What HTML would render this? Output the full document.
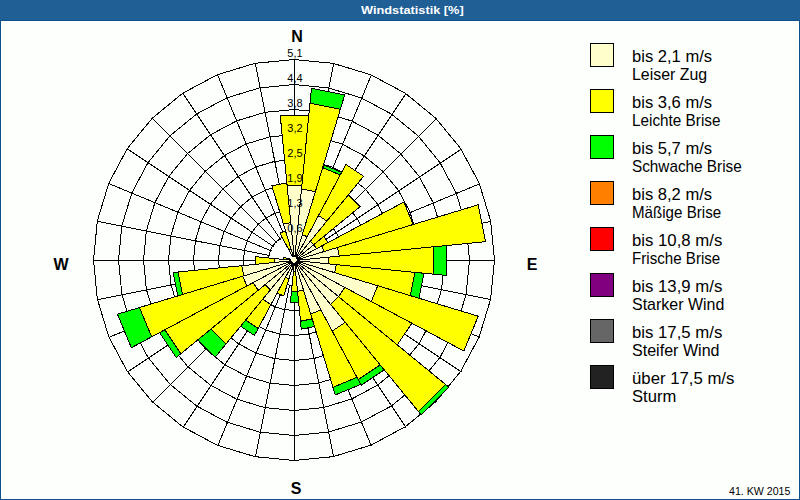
<!DOCTYPE html>
<html><head><meta charset="utf-8"><style>
html,body{margin:0;padding:0;}
body{width:800px;height:500px;position:relative;overflow:hidden;background:#fdfffd;font-family:"Liberation Sans",sans-serif;}
#hdr{position:absolute;left:0;top:0;width:800px;height:20px;background:#1f5f96;border-bottom:1px solid #0d4f8c;}
#title{position:absolute;left:361px;top:3px;color:#fff;font-weight:bold;font-size:11px;line-height:14px;transform:scaleX(1.16);transform-origin:0 0;white-space:nowrap;}
#bl{position:absolute;left:0;top:20px;width:1px;height:480px;background:#0d4f8c;}
#br{position:absolute;left:799px;top:20px;width:1px;height:480px;background:#0d4f8c;}
#bb{position:absolute;left:0;top:499px;width:800px;height:1px;background:#0d4f8c;}
.box{position:absolute;left:590px;width:22px;height:22px;border:1px solid #000;}
.lt{position:absolute;left:632px;transform-origin:0 0;font-size:17px;line-height:18px;color:#000;white-space:nowrap;}
#kw{position:absolute;left:729px;top:485px;font-size:11px;line-height:13px;transform:scaleX(0.965);transform-origin:0 0;color:#000;white-space:nowrap;}
svg{position:absolute;left:0;top:0;}
.dir{font-weight:bold;font-size:16px;}
.sc{font-size:11px;}
</style></head><body>
<div id="hdr"></div><div id="title">Windstatistik [%]</div>
<div id="bl"></div><div id="br"></div><div id="bb"></div>
<svg width="800" height="500" viewBox="0 0 800 500" font-family="Liberation Sans, sans-serif">
<g shape-rendering="crispEdges">
<polygon points="294,234.5 298.97,234.99 303.76,236.44 308.17,238.8 312.03,241.97 315.2,245.83 317.56,250.24 319.01,255.03 319.5,260 319.01,264.97 317.56,269.76 315.2,274.17 312.03,278.03 308.17,281.2 303.76,283.56 298.97,285.01 294,285.5 289.03,285.01 284.24,283.56 279.83,281.2 275.97,278.03 272.8,274.17 270.44,269.76 268.99,264.97 268.5,260 268.99,255.03 270.44,250.24 272.8,245.83 275.97,241.97 279.83,238.8 284.24,236.44 289.03,234.99" fill="none" stroke="#000" stroke-width="1"/>
<polygon points="294,209.5 303.85,210.47 313.33,213.34 322.06,218.01 329.71,224.29 335.99,231.94 340.66,240.67 343.53,250.15 344.5,260 343.53,269.85 340.66,279.33 335.99,288.06 329.71,295.71 322.06,301.99 313.33,306.66 303.85,309.53 294,310.5 284.15,309.53 274.67,306.66 265.94,301.99 258.29,295.71 252.01,288.06 247.34,279.33 244.47,269.85 243.5,260 244.47,250.15 247.34,240.67 252.01,231.94 258.29,224.29 265.94,218.01 274.67,213.34 284.15,210.47" fill="none" stroke="#000" stroke-width="1"/>
<polygon points="294,184.5 308.73,185.95 322.89,190.25 335.95,197.22 347.39,206.61 356.78,218.05 363.75,231.11 368.05,245.27 369.5,260 368.05,274.73 363.75,288.89 356.78,301.95 347.39,313.39 335.95,322.78 322.89,329.75 308.73,334.05 294,335.5 279.27,334.05 265.11,329.75 252.05,322.78 240.61,313.39 231.22,301.95 224.25,288.89 219.95,274.73 218.5,260 219.95,245.27 224.25,231.11 231.22,218.05 240.61,206.61 252.05,197.22 265.11,190.25 279.27,185.95" fill="none" stroke="#000" stroke-width="1"/>
<polygon points="294,159.5 313.61,161.43 332.46,167.15 349.83,176.44 365.06,188.94 377.56,204.17 386.85,221.54 392.57,240.39 394.5,260 392.57,279.61 386.85,298.46 377.56,315.83 365.06,331.06 349.83,343.56 332.46,352.85 313.61,358.57 294,360.5 274.39,358.57 255.54,352.85 238.17,343.56 222.94,331.06 210.44,315.83 201.15,298.46 195.43,279.61 193.5,260 195.43,240.39 201.15,221.54 210.44,204.17 222.94,188.94 238.17,176.44 255.54,167.15 274.39,161.43" fill="none" stroke="#000" stroke-width="1"/>
<polygon points="294,134.5 318.48,136.91 342.03,144.05 363.72,155.65 382.74,171.26 398.35,190.28 409.95,211.97 417.09,235.52 419.5,260 417.09,284.48 409.95,308.03 398.35,329.72 382.74,348.74 363.72,364.35 342.03,375.95 318.48,383.09 294,385.5 269.52,383.09 245.97,375.95 224.28,364.35 205.26,348.74 189.65,329.72 178.05,308.03 170.91,284.48 168.5,260 170.91,235.52 178.05,211.97 189.65,190.28 205.26,171.26 224.28,155.65 245.97,144.05 269.52,136.91" fill="none" stroke="#000" stroke-width="1"/>
<polygon points="294,109.5 323.36,112.39 351.59,120.96 377.61,134.86 400.42,153.58 419.14,176.39 433.04,202.41 441.61,230.64 444.5,260 441.61,289.36 433.04,317.59 419.14,343.61 400.42,366.42 377.61,385.14 351.59,399.04 323.36,407.61 294,410.5 264.64,407.61 236.41,399.04 210.39,385.14 187.58,366.42 168.86,343.61 154.96,317.59 146.39,289.36 143.5,260 146.39,230.64 154.96,202.41 168.86,176.39 187.58,153.58 210.39,134.86 236.41,120.96 264.64,112.39" fill="none" stroke="#000" stroke-width="1"/>
<polygon points="294,84.5 328.24,87.87 361.16,97.86 391.5,114.08 418.1,135.9 439.92,162.5 456.14,192.84 466.13,225.76 469.5,260 466.13,294.24 456.14,327.16 439.92,357.5 418.1,384.1 391.5,405.92 361.16,422.14 328.24,432.13 294,435.5 259.76,432.13 226.84,422.14 196.5,405.92 169.9,384.1 148.08,357.5 131.86,327.16 121.87,294.24 118.5,260 121.87,225.76 131.86,192.84 148.08,162.5 169.9,135.9 196.5,114.08 226.84,97.86 259.76,87.87" fill="none" stroke="#000" stroke-width="1"/>
<polygon points="294,59.5 333.12,63.35 370.73,74.76 405.39,93.29 435.77,118.23 460.71,148.61 479.24,183.27 490.65,220.88 494.5,260 490.65,299.12 479.24,336.73 460.71,371.39 435.77,401.77 405.39,426.71 370.73,445.24 333.12,456.65 294,460.5 254.88,456.65 217.27,445.24 182.61,426.71 152.23,401.77 127.29,371.39 108.76,336.73 97.35,299.12 93.5,260 97.35,220.88 108.76,183.27 127.29,148.61 152.23,118.23 182.61,93.29 217.27,74.76 254.88,63.35" fill="none" stroke="#000" stroke-width="1"/>
<line x1="294.5" y1="235.5" x2="294.5" y2="59.8" stroke="#000" stroke-width="1"/>
<line x1="299.38" y1="235.98" x2="333.65" y2="63.66" stroke="#000" stroke-width="1"/>
<line x1="304.07" y1="237.4" x2="371.3" y2="75.08" stroke="#000" stroke-width="1"/>
<line x1="308.39" y1="239.71" x2="406" y2="93.62" stroke="#000" stroke-width="1"/>
<line x1="312.18" y1="242.82" x2="436.42" y2="118.58" stroke="#000" stroke-width="1"/>
<line x1="315.29" y1="246.61" x2="461.38" y2="149" stroke="#000" stroke-width="1"/>
<line x1="317.6" y1="250.93" x2="479.92" y2="183.7" stroke="#000" stroke-width="1"/>
<line x1="319.02" y1="255.62" x2="491.34" y2="221.35" stroke="#000" stroke-width="1"/>
<line x1="319.5" y1="260.5" x2="495.2" y2="260.5" stroke="#000" stroke-width="1"/>
<line x1="319.02" y1="265.38" x2="491.34" y2="299.65" stroke="#000" stroke-width="1"/>
<line x1="317.6" y1="270.07" x2="479.92" y2="337.3" stroke="#000" stroke-width="1"/>
<line x1="315.29" y1="274.39" x2="461.38" y2="372" stroke="#000" stroke-width="1"/>
<line x1="312.18" y1="278.18" x2="436.42" y2="402.42" stroke="#000" stroke-width="1"/>
<line x1="308.39" y1="281.29" x2="406" y2="427.38" stroke="#000" stroke-width="1"/>
<line x1="304.07" y1="283.6" x2="371.3" y2="445.92" stroke="#000" stroke-width="1"/>
<line x1="299.38" y1="285.02" x2="333.65" y2="457.34" stroke="#000" stroke-width="1"/>
<line x1="294.5" y1="285.5" x2="294.5" y2="461.2" stroke="#000" stroke-width="1"/>
<line x1="289.62" y1="285.02" x2="255.35" y2="457.34" stroke="#000" stroke-width="1"/>
<line x1="284.93" y1="283.6" x2="217.7" y2="445.92" stroke="#000" stroke-width="1"/>
<line x1="280.61" y1="281.29" x2="183" y2="427.38" stroke="#000" stroke-width="1"/>
<line x1="276.82" y1="278.18" x2="152.58" y2="402.42" stroke="#000" stroke-width="1"/>
<line x1="273.71" y1="274.39" x2="127.62" y2="372" stroke="#000" stroke-width="1"/>
<line x1="271.4" y1="270.07" x2="109.08" y2="337.3" stroke="#000" stroke-width="1"/>
<line x1="269.98" y1="265.38" x2="97.66" y2="299.65" stroke="#000" stroke-width="1"/>
<line x1="269.5" y1="260.5" x2="93.8" y2="260.5" stroke="#000" stroke-width="1"/>
<line x1="269.98" y1="255.62" x2="97.66" y2="221.35" stroke="#000" stroke-width="1"/>
<line x1="271.4" y1="250.93" x2="109.08" y2="183.7" stroke="#000" stroke-width="1"/>
<line x1="273.71" y1="246.61" x2="127.62" y2="149" stroke="#000" stroke-width="1"/>
<line x1="276.82" y1="242.82" x2="152.58" y2="118.58" stroke="#000" stroke-width="1"/>
<line x1="280.61" y1="239.71" x2="183" y2="93.62" stroke="#000" stroke-width="1"/>
<line x1="284.93" y1="237.4" x2="217.7" y2="75.08" stroke="#000" stroke-width="1"/>
<line x1="289.62" y1="235.98" x2="255.35" y2="63.66" stroke="#000" stroke-width="1"/>
<polygon points="294.5,260.5 280.19,115.2 308.81,115.2" fill="#ffff00" stroke="#000" stroke-width="1" stroke-linejoin="miter"/>
<polygon points="294.5,260.5 287.1,185.36 301.9,185.36" fill="#ffffcc" stroke="#000" stroke-width="1" stroke-linejoin="miter"/>
<polygon points="294.5,260.5 311.46,88.33 344.72,94.95" fill="#00ff00" stroke="#000" stroke-width="1" stroke-linejoin="miter"/>
<polygon points="294.5,260.5 309.99,103.26 340.36,109.3" fill="#ffff00" stroke="#000" stroke-width="1" stroke-linejoin="miter"/>
<polygon points="294.5,260.5 301.56,188.85 315.4,191.6" fill="#ffffcc" stroke="#000" stroke-width="1" stroke-linejoin="miter"/>
<polygon points="294.5,260.5 323.53,164.81 341.64,172.31" fill="#00ff00" stroke="#000" stroke-width="1" stroke-linejoin="miter"/>
<polygon points="294.5,260.5 322.66,167.68 340.23,174.95" fill="#ffff00" stroke="#000" stroke-width="1" stroke-linejoin="miter"/>
<polygon points="294.5,260.5 302.34,234.66 307.23,236.69" fill="#ffffcc" stroke="#000" stroke-width="1" stroke-linejoin="miter"/>
<polygon points="294.5,260.5 345.88,164.37 363.65,176.24" fill="#ffff00" stroke="#000" stroke-width="1" stroke-linejoin="miter"/>
<polygon points="294.5,260.5 318.54,215.52 326.85,221.08" fill="#ffffcc" stroke="#000" stroke-width="1" stroke-linejoin="miter"/>
<polygon points="294.5,260.5 348.42,194.79 360.21,206.58" fill="#ffff00" stroke="#000" stroke-width="1" stroke-linejoin="miter"/>
<polygon points="294.5,260.5 310.36,241.17 313.83,244.64" fill="#ffffcc" stroke="#000" stroke-width="1" stroke-linejoin="miter"/>
<polygon points="294.5,260.5 323.87,236.39 328.01,242.59" fill="#ffff00" stroke="#000" stroke-width="1" stroke-linejoin="miter"/>
<polygon points="294.5,260.5 313.83,244.64 316.55,248.72" fill="#ffffcc" stroke="#000" stroke-width="1" stroke-linejoin="miter"/>
<polygon points="294.5,260.5 403.86,202.05 413.16,224.5" fill="#ffff00" stroke="#000" stroke-width="1" stroke-linejoin="miter"/>
<polygon points="294.5,260.5 321.84,245.89 324.17,251.5" fill="#ffffcc" stroke="#000" stroke-width="1" stroke-linejoin="miter"/>
<polygon points="294.5,260.5 478.23,204.77 485.58,241.68" fill="#ffff00" stroke="#000" stroke-width="1" stroke-linejoin="miter"/>
<polygon points="294.5,260.5 337.56,247.44 339.28,256.09" fill="#ffffcc" stroke="#000" stroke-width="1" stroke-linejoin="miter"/>
<polygon points="294.5,260.5 446.76,245.5 446.76,275.5" fill="#00ff00" stroke="#000" stroke-width="1" stroke-linejoin="miter"/>
<polygon points="294.5,260.5 433.83,246.78 433.83,274.22" fill="#ffff00" stroke="#000" stroke-width="1" stroke-linejoin="miter"/>
<polygon points="294.5,260.5 328.34,257.17 328.34,263.83" fill="#ffffcc" stroke="#000" stroke-width="1" stroke-linejoin="miter"/>
<polygon points="294.5,260.5 423.87,273.24 418.9,298.24" fill="#00ff00" stroke="#000" stroke-width="1" stroke-linejoin="miter"/>
<polygon points="294.5,260.5 414.92,272.36 410.29,295.62" fill="#ffff00" stroke="#000" stroke-width="1" stroke-linejoin="miter"/>
<polygon points="294.5,260.5 336.3,264.62 334.69,272.69" fill="#ffffcc" stroke="#000" stroke-width="1" stroke-linejoin="miter"/>
<polygon points="294.5,260.5 478.23,316.23 463.83,351.01" fill="#ffff00" stroke="#000" stroke-width="1" stroke-linejoin="miter"/>
<polygon points="294.5,260.5 377.75,285.75 371.23,301.51" fill="#ffffcc" stroke="#000" stroke-width="1" stroke-linejoin="miter"/>
<polygon points="294.5,260.5 411.8,323.2 397.31,344.87" fill="#ffff00" stroke="#000" stroke-width="1" stroke-linejoin="miter"/>
<polygon points="294.5,260.5 344.77,287.37 338.56,296.66" fill="#ffffcc" stroke="#000" stroke-width="1" stroke-linejoin="miter"/>
<polygon points="294.5,260.5 448.72,387.06 421.06,414.72" fill="#00ff00" stroke="#000" stroke-width="1" stroke-linejoin="miter"/>
<polygon points="294.5,260.5 445.62,384.52 418.52,411.62" fill="#ffff00" stroke="#000" stroke-width="1" stroke-linejoin="miter"/>
<polygon points="294.5,260.5 338.56,296.66 330.66,304.56" fill="#ffffcc" stroke="#000" stroke-width="1" stroke-linejoin="miter"/>
<polygon points="294.5,260.5 384.27,369.88 361.2,385.29" fill="#00ff00" stroke="#000" stroke-width="1" stroke-linejoin="miter"/>
<polygon points="294.5,260.5 380.14,364.86 358.14,379.56" fill="#ffff00" stroke="#000" stroke-width="1" stroke-linejoin="miter"/>
<polygon points="294.5,260.5 345.25,322.34 332.21,331.05" fill="#ffffcc" stroke="#000" stroke-width="1" stroke-linejoin="miter"/>
<polygon points="294.5,260.5 360.73,384.41 335.28,394.95" fill="#00ff00" stroke="#000" stroke-width="1" stroke-linejoin="miter"/>
<polygon points="294.5,260.5 356.96,377.35 332.96,387.29" fill="#ffff00" stroke="#000" stroke-width="1" stroke-linejoin="miter"/>
<polygon points="294.5,260.5 320.9,309.89 310.76,314.09" fill="#ffffcc" stroke="#000" stroke-width="1" stroke-linejoin="miter"/>
<polygon points="294.5,260.5 314.53,326.53 301.26,329.17" fill="#00ff00" stroke="#000" stroke-width="1" stroke-linejoin="miter"/>
<polygon points="294.5,260.5 312.21,318.87 300.48,321.21" fill="#ffff00" stroke="#000" stroke-width="1" stroke-linejoin="miter"/>
<polygon points="294.5,260.5 303.5,290.17 297.54,291.35" fill="#ffffcc" stroke="#000" stroke-width="1" stroke-linejoin="miter"/>
<polygon points="294.5,260.5 298.62,302.3 290.38,302.3" fill="#00ff00" stroke="#000" stroke-width="1" stroke-linejoin="miter"/>
<polygon points="294.5,260.5 297.54,291.35 291.46,291.35" fill="#ffff00" stroke="#000" stroke-width="1" stroke-linejoin="miter"/>
<polygon points="294.5,260.5 295.58,271.45 293.42,271.45" fill="#ffffcc" stroke="#000" stroke-width="1" stroke-linejoin="miter"/>
<polygon points="294.5,260.5 293.62,269.46 291.89,269.11" fill="#ffffcc" stroke="#000" stroke-width="1" stroke-linejoin="miter"/>
<polygon points="294.5,260.5 283.76,295.91 277.06,293.13" fill="#ffff00" stroke="#000" stroke-width="1" stroke-linejoin="miter"/>
<polygon points="294.5,260.5 288.98,278.68 285.54,277.26" fill="#ffffcc" stroke="#000" stroke-width="1" stroke-linejoin="miter"/>
<polygon points="294.5,260.5 254.43,335.46 240.58,326.21" fill="#00ff00" stroke="#000" stroke-width="1" stroke-linejoin="miter"/>
<polygon points="294.5,260.5 258.2,328.41 245.65,320.02" fill="#ffff00" stroke="#000" stroke-width="1" stroke-linejoin="miter"/>
<polygon points="294.5,260.5 270.93,304.6 262.78,299.15" fill="#ffffcc" stroke="#000" stroke-width="1" stroke-linejoin="miter"/>
<polygon points="294.5,260.5 215.2,357.13 197.87,339.8" fill="#00ff00" stroke="#000" stroke-width="1" stroke-linejoin="miter"/>
<polygon points="294.5,260.5 225.99,343.99 211.01,329.01" fill="#ffff00" stroke="#000" stroke-width="1" stroke-linejoin="miter"/>
<polygon points="294.5,260.5 270.39,289.87 265.13,284.61" fill="#ffffcc" stroke="#000" stroke-width="1" stroke-linejoin="miter"/>
<polygon points="294.5,260.5 176.23,357.56 159.57,332.62" fill="#00ff00" stroke="#000" stroke-width="1" stroke-linejoin="miter"/>
<polygon points="294.5,260.5 180.87,353.76 164.86,329.8" fill="#ffff00" stroke="#000" stroke-width="1" stroke-linejoin="miter"/>
<polygon points="294.5,260.5 258.17,290.32 253.05,282.66" fill="#ffffcc" stroke="#000" stroke-width="1" stroke-linejoin="miter"/>
<polygon points="294.5,260.5 131.34,347.71 117.47,314.2" fill="#00ff00" stroke="#000" stroke-width="1" stroke-linejoin="miter"/>
<polygon points="294.5,260.5 151.63,336.87 139.48,307.53" fill="#ffff00" stroke="#000" stroke-width="1" stroke-linejoin="miter"/>
<polygon points="294.5,260.5 246.88,285.96 242.83,276.18" fill="#ffffcc" stroke="#000" stroke-width="1" stroke-linejoin="miter"/>
<polygon points="294.5,260.5 177.75,295.91 173.09,272.46" fill="#00ff00" stroke="#000" stroke-width="1" stroke-linejoin="miter"/>
<polygon points="294.5,260.5 182.54,294.46 178.06,271.97" fill="#ffff00" stroke="#000" stroke-width="1" stroke-linejoin="miter"/>
<polygon points="294.5,260.5 243.78,275.89 241.76,265.69" fill="#ffffcc" stroke="#000" stroke-width="1" stroke-linejoin="miter"/>
<polygon points="294.5,260.5 255.69,264.32 255.69,256.68" fill="#ffff00" stroke="#000" stroke-width="1" stroke-linejoin="miter"/>
<polygon points="294.5,260.5 274.6,262.46 274.6,258.54" fill="#ffffcc" stroke="#000" stroke-width="1" stroke-linejoin="miter"/>
<polygon points="294.5,260.5 283.55,259.42 283.97,257.31" fill="#ffff00" stroke="#000" stroke-width="1" stroke-linejoin="miter"/>
<polygon points="294.5,260.5 288.53,259.91 288.76,258.76" fill="#ffffcc" stroke="#000" stroke-width="1" stroke-linejoin="miter"/>
<polygon points="294.5,260.5 279.89,233.16 285.5,230.83" fill="#ffff00" stroke="#000" stroke-width="1" stroke-linejoin="miter"/>
<polygon points="294.5,260.5 288.84,249.92 291.02,249.02" fill="#ffffcc" stroke="#000" stroke-width="1" stroke-linejoin="miter"/>
<polygon points="294.5,260.5 271.86,185.86 286.85,182.88" fill="#ffff00" stroke="#000" stroke-width="1" stroke-linejoin="miter"/>
<polygon points="294.5,260.5 283.47,224.14 290.78,222.68" fill="#ffffcc" stroke="#000" stroke-width="1" stroke-linejoin="miter"/>
<polygon points="292.5,257 295,256.5 297,259.5 296,262 293,263 291,260.5" fill="#ffffcc"/>
</g>
<g class="sc" fill="#000">
<text x="295" y="232" text-anchor="middle">0,6</text>
<text x="295" y="207" text-anchor="middle">1,3</text>
<text x="295" y="182" text-anchor="middle">1,9</text>
<text x="295" y="157" text-anchor="middle">2,5</text>
<text x="295" y="132" text-anchor="middle">3,2</text>
<text x="295" y="107" text-anchor="middle">3,8</text>
<text x="295" y="82" text-anchor="middle">4,4</text>
<text x="295" y="57" text-anchor="middle">5,1</text>
</g>
<text class="dir" x="297" y="42" text-anchor="middle">N</text>
<text class="dir" x="296" y="494" text-anchor="middle">S</text>
<text class="dir" x="61" y="270" text-anchor="middle">W</text>
<text class="dir" x="532" y="270" text-anchor="middle">E</text>
</svg>
<div class="box" style="top:43px;background:#ffffcc"></div>
<div class="lt" style="top:48px;transform:scaleX(0.975)">bis 2,1 m/s</div>
<div class="lt" style="top:66px;transform:scaleX(0.935)">Leiser Zug</div>
<div class="box" style="top:89px;background:#ffff00"></div>
<div class="lt" style="top:94px;transform:scaleX(0.975)">bis 3,6 m/s</div>
<div class="lt" style="top:112px;transform:scaleX(0.9)">Leichte Brise</div>
<div class="box" style="top:135px;background:#00ff00"></div>
<div class="lt" style="top:140px;transform:scaleX(0.975)">bis 5,7 m/s</div>
<div class="lt" style="top:158px;transform:scaleX(0.9)">Schwache Brise</div>
<div class="box" style="top:181px;background:#ff8000"></div>
<div class="lt" style="top:186px;transform:scaleX(0.975)">bis 8,2 m/s</div>
<div class="lt" style="top:204px;transform:scaleX(0.89)">M&auml;&szlig;ige Brise</div>
<div class="box" style="top:227px;background:#ff0000"></div>
<div class="lt" style="top:232px;transform:scaleX(0.985)">bis 10,8 m/s</div>
<div class="lt" style="top:250px;transform:scaleX(0.89)">Frische Brise</div>
<div class="box" style="top:273px;background:#800080"></div>
<div class="lt" style="top:278px;transform:scaleX(0.985)">bis 13,9 m/s</div>
<div class="lt" style="top:296px;transform:scaleX(0.94)">Starker Wind</div>
<div class="box" style="top:319px;background:#666666"></div>
<div class="lt" style="top:324px;transform:scaleX(0.985)">bis 17,5 m/s</div>
<div class="lt" style="top:342px;transform:scaleX(0.945)">Steifer Wind</div>
<div class="box" style="top:365px;background:#222222"></div>
<div class="lt" style="top:370px;transform:scaleX(0.985)">&uuml;ber 17,5 m/s</div>
<div class="lt" style="top:388px;transform:scaleX(0.976)">Sturm</div>
<div id="kw">41. KW 2015</div>
</body></html>
